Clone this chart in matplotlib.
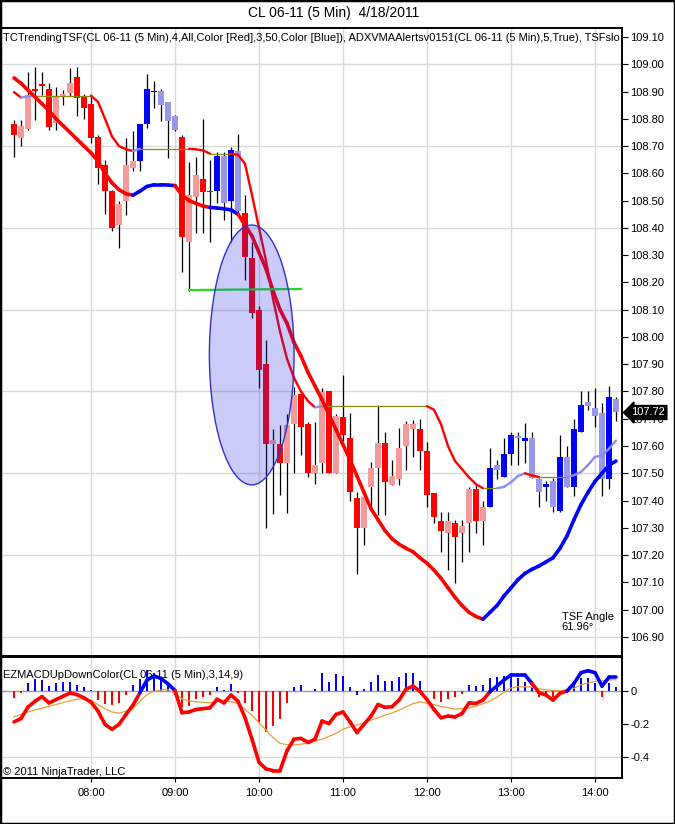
import matplotlib
matplotlib.use('Agg')
import matplotlib.pyplot as plt
import matplotlib.transforms as mtransforms
from matplotlib.patches import Ellipse, Rectangle
from matplotlib.collections import LineCollection
import numpy as np

plt.rcParams['font.family'] = ['Liberation Sans', 'DejaVu Sans']

# ---------------- data ----------------
start_minutes = 7 * 60 + 5          # first bar 07:05, 5-minute bars
tick_labels = ["08:00", "09:00", "10:00", "11:00", "12:00", "13:00", "14:00"]

candle_colors = ("RPPRRRPPPR" "RRRRRPPPBB" "BLLLRPPRRB" "LBLRRRRPRP"
                 "PRRPPRPRRR" "PPPRPPPPRR" "RRPRPPRPBL" "BBLBLLBLBL" "BBLLLBL")

opens = [108.780, 108.731, 108.762, 108.911, 108.926, 108.911, 108.783, 108.880, 108.893, 108.953,
         108.884, 108.853, 108.735, 108.630, 108.537, 108.409, 108.498, 108.620, 108.647, 108.780,
         108.898, 108.902, 108.862, 108.810, 108.734, 108.348, 108.512, 108.580, 108.535, 108.537,
         108.662, 108.500, 108.682, 108.453, 108.290, 108.100, 107.900, 107.609, 107.609, 107.539,
         107.680, 107.790, 107.680, 107.500, 107.539, 107.802, 107.500, 107.708, 107.630, 107.410,
         107.298, 107.449, 107.518, 107.610, 107.457, 107.478, 107.600, 107.662, 107.662, 107.580,
         107.429, 107.326, 107.280, 107.319, 107.280, 107.319, 107.441, 107.326, 107.378, 107.530,
         107.488, 107.570, 107.637, 107.620, 107.628, 107.478, 107.449, 107.470, 107.363, 107.559,
         107.449, 107.650, 107.760, 107.741, 107.720, 107.478, 107.772]
highs = [108.795, 108.795, 108.970, 108.990, 108.972, 108.930, 108.915, 108.905, 108.985, 108.990,
         108.890, 108.880, 108.740, 108.650, 108.540, 108.500, 108.728, 108.755, 108.780, 108.963,
         108.939, 108.910, 108.862, 108.815, 108.740, 108.640, 108.660, 108.800, 108.650, 108.680,
         108.680, 108.695, 108.744, 108.520, 108.348, 108.112, 107.990, 107.661, 107.677, 107.719,
         107.817, 107.792, 107.689, 107.689, 107.811, 107.802, 107.719, 107.860, 107.720, 107.433,
         107.440, 107.543, 107.750, 107.653, 107.550, 107.665, 107.692, 107.696, 107.700, 107.613,
         107.429, 107.359, 107.359, 107.330, 107.330, 107.450, 107.457, 107.400, 107.592, 107.550,
         107.630, 107.653, 107.653, 107.684, 107.653, 107.482, 107.470, 107.482, 107.640, 107.600,
         107.700, 107.800, 107.800, 107.812, 107.757, 107.821, 107.779]
lows = [108.660, 108.700, 108.760, 108.795, 108.887, 108.760, 108.760, 108.850, 108.885, 108.810,
        108.800, 108.710, 108.560, 108.450, 108.388, 108.327, 108.449, 108.608, 108.608, 108.767,
        108.841, 108.792, 108.657, 108.755, 108.237, 108.170, 108.380, 108.380, 108.350, 108.490,
        108.430, 108.350, 108.457, 108.210, 108.071, 107.811, 107.298, 107.351, 107.420, 107.353,
        107.500, 107.567, 107.487, 107.461, 107.500, 107.500, 107.500, 107.620, 107.400, 107.130,
        107.237, 107.378, 107.347, 107.347, 107.457, 107.457, 107.512, 107.561, 107.512, 107.378,
        107.316, 107.212, 107.145, 107.098, 107.175, 107.212, 107.280, 107.237, 107.378, 107.478,
        107.488, 107.530, 107.530, 107.537, 107.482, 107.378, 107.400, 107.359, 107.359, 107.449,
        107.417, 107.650, 107.733, 107.670, 107.417, 107.441, 107.690]
closes = [108.742, 108.773, 108.887, 108.903, 108.922, 108.770, 108.880, 108.890, 108.933, 108.875,
          108.840, 108.730, 108.620, 108.537, 108.398, 108.488, 108.630, 108.647, 108.780, 108.908,
          108.902, 108.851, 108.792, 108.758, 108.368, 108.520, 108.593, 108.530, 108.532, 108.662,
          108.490, 108.684, 108.462, 108.292, 108.088, 107.880, 107.609, 107.622, 107.539, 107.677,
          107.786, 107.668, 107.500, 107.530, 107.799, 107.500, 107.709, 107.640, 107.430, 107.298,
          107.414, 107.518, 107.610, 107.469, 107.490, 107.592, 107.680, 107.680, 107.580, 107.420,
          107.338, 107.290, 107.326, 107.267, 107.308, 107.441, 107.326, 107.378, 107.518, 107.512,
          107.570, 107.640, 107.628, 107.628, 107.482, 107.430, 107.461, 107.378, 107.559, 107.449,
          107.663, 107.751, 107.747, 107.710, 107.478, 107.779, 107.723]

# thick trending TSF line and its up/down state
tsf = [108.950, 108.930, 108.905, 108.880, 108.855, 108.830, 108.800, 108.775, 108.750, 108.725,
       108.700, 108.675, 108.645, 108.600, 108.565, 108.540, 108.525, 108.520, 108.535, 108.552,
       108.558, 108.558, 108.557, 108.555, 108.520, 108.500, 108.490, 108.480, 108.475, 108.473,
       108.470, 108.466, 108.450, 108.410, 108.370, 108.310, 108.250, 108.170, 108.100, 108.050,
       107.980, 107.930, 107.870, 107.820, 107.770, 107.715, 107.660, 107.605, 107.550, 107.490,
       107.430, 107.370, 107.330, 107.290, 107.260, 107.240, 107.225, 107.212, 107.190, 107.170,
       107.145, 107.115, 107.080, 107.045, 107.015, 106.990, 106.975, 106.965, 106.990, 107.015,
       107.050, 107.080, 107.110, 107.133, 107.148, 107.160, 107.175, 107.190, 107.225, 107.270,
       107.330, 107.385, 107.430, 107.470, 107.500, 107.530, 107.545]
tsf_state = ("dddddddddd" "dddddddduu" "uuuudddddu" "uuuddddddd" "dddddddddd"
             "dddddddddd" "dddddddduu" "uuuuuuuuuu" "uuuuuuu")

# thin ADXVMA line
vma = [108.898, 108.878, 108.882, 108.885, 108.885, 108.885, 108.885, 108.885, 108.885, 108.885,
       108.885, 108.885, 108.862, 108.800, 108.735, 108.700, 108.688, 108.682, 108.690, 108.690,
       108.690, 108.690, 108.690, 108.690, 108.690, 108.690, 108.688, 108.684, 108.672, 108.672,
       108.672, 108.672, 108.668, 108.635, 108.520, 108.400, 108.280, 108.140, 108.020, 107.920,
       107.850, 107.800, 107.765, 107.742, 107.746, 107.746, 107.746, 107.746, 107.746, 107.746,
       107.746, 107.746, 107.746, 107.746, 107.746, 107.746, 107.746, 107.746, 107.746, 107.746,
       107.733, 107.680, 107.600, 107.545, 107.515, 107.485, 107.460, 107.445, 107.445, 107.445,
       107.450, 107.467, 107.490, 107.500, 107.492, 107.486, 107.486, 107.486, 107.486, 107.486,
       107.493, 107.505, 107.530, 107.560, 107.565, 107.590, 107.620]

green_level = 108.172
green_start, green_end = "09:10", "10:30"
ellipse_center_time, ellipse_center_price = 33.96, 107.934   # bar index, price
ellipse_width_bars, ellipse_height_price = 12.1, 0.953
tsf_angle_text = "TSF Angle\n61.96\u00b0"

# MACD panel
macd = [-0.185, -0.165, -0.095, -0.060, -0.032, -0.070, -0.050, -0.030, -0.010, -0.020,
        -0.040, -0.065, -0.120, -0.200, -0.230, -0.200, -0.140, -0.083, -0.008, 0.068,
        0.093, 0.078, 0.045, 0.005, -0.130, -0.125, -0.110, -0.105, -0.100, -0.048,
        -0.070, -0.022, -0.060, -0.160, -0.290, -0.430, -0.470, -0.480, -0.480, -0.360,
        -0.290, -0.285, -0.310, -0.290, -0.180, -0.195, -0.140, -0.125, -0.185, -0.250,
        -0.200, -0.150, -0.080, -0.097, -0.093, -0.053, 0.012, 0.032, 0.000, -0.050,
        -0.110, -0.160, -0.150, -0.155, -0.135, -0.070, -0.073, -0.053, -0.002, 0.032,
        0.069, 0.099, 0.099, 0.099, 0.048, -0.008, -0.022, -0.053, -0.012, 0.002,
        0.048, 0.113, 0.125, 0.113, 0.032, 0.085, 0.085]
macd_state = ("dddddddddd" "dddddddddu" "uuuudddddd" "dddddddddd" "dddddddddd"
              "dddddddddd" "dddddddddu" "uuuuuddddd" "uuuuuuu")
signal = [-0.155, -0.140, -0.125, -0.112, -0.103, -0.090, -0.080, -0.068, -0.058, -0.048,
          -0.045, -0.055, -0.080, -0.105, -0.125, -0.133, -0.120, -0.103, -0.060, -0.020,
          0.000, 0.008, 0.010, -0.015, -0.045, -0.058, -0.063, -0.066, -0.068, -0.060,
          -0.053, -0.063, -0.073, -0.110, -0.145, -0.190, -0.235, -0.280, -0.315, -0.323,
          -0.325, -0.320, -0.315, -0.300, -0.290, -0.272, -0.255, -0.230, -0.215, -0.204,
          -0.190, -0.174, -0.160, -0.145, -0.130, -0.115, -0.093, -0.075, -0.063, -0.072,
          -0.080, -0.092, -0.100, -0.108, -0.105, -0.100, -0.090, -0.075, -0.058, -0.035,
          -0.005, 0.020, 0.028, 0.028, 0.025, 0.015, 0.010, 0.005, 0.004, 0.007,
          0.018, 0.040, 0.050, 0.060, 0.064, 0.069, 0.070]
hist = [-0.038, -0.008, 0.048, 0.073, 0.069, 0.032, 0.053, 0.057, 0.057, 0.040,
        0.024, 0.008, -0.053, -0.077, -0.083, -0.069, -0.020, 0.038, 0.073, 0.129,
        0.109, 0.073, 0.032, -0.020, -0.097, -0.089, -0.048, -0.032, -0.022, 0.028,
        0.008, 0.044, -0.012, -0.069, -0.117, -0.184, -0.244, -0.210, -0.170, -0.069,
        0.028, 0.038, 0.000, 0.012, 0.109, 0.057, 0.105, 0.093, 0.024, -0.022,
        0.012, 0.059, 0.099, 0.065, 0.065, 0.085, 0.113, 0.109, 0.063, 0.004,
        -0.048, -0.063, -0.048, -0.032, -0.016, 0.040, 0.032, 0.040, 0.079, 0.085,
        0.093, 0.089, 0.079, 0.059, 0.028, -0.032, -0.028, -0.032, -0.008, -0.012,
        0.038, 0.079, 0.079, 0.048, -0.032, 0.048, 0.024]
hist_colors = ("rrbbbbbbbb" "bbrrrrrbbb" "bbbrrrrrrb" "bbrrrrrrrr" "bbbbbbbbbb"
               "bbbbbbbbbb" "rrrrrbbbbb" "bbbbbrrrrr" "bbbbrbb")

title = "CL 06-11 (5 Min)  4/18/2011"
price_label = ("TCTrendingTSF(CL 06-11 (5 Min),4,All,Color [Red],3,50,Color [Blue]), "
               "ADXVMAAlertsv0151(CL 06-11 (5 Min),5,True), TSFslo")
macd_label = "EZMACDUpDownColor(CL 06-11 (5 Min),3,14,9)"
copyright_label = "\u00a9 2011 NinjaTrader, LLC"

# ---------------- drawing ----------------
n = len(closes)
x = np.arange(n)
times = ["%02d:%02d" % ((start_minutes + 5 * i) // 60, (start_minutes + 5 * i) % 60) for i in range(n)]
tick_pos = [times.index(t) for t in tick_labels]

W, H = 675, 824
fig = plt.figure(figsize=(W / 100, H / 100), dpi=100)
fig.patch.set_facecolor('white')

def fx(px):
    return px / W

def fy(py):
    return 1 - py / H

ax1 = fig.add_axes([fx(1), fy(656), fx(622) - fx(1), fy(28) - fy(656)])
ax2 = fig.add_axes([fx(1), fy(778), fx(622) - fx(1), fy(657) - fy(778)], sharex=ax1)

grid_c = '#DADADA'
cmap = {'R': '#FF0000', 'P': '#F49A9A', 'B': '#0000FF', 'L': '#9797EE'}

# price grid
for lev in np.arange(106.90, 109.05, 0.30):
    ax1.axhline(lev, color=grid_c, lw=1, zorder=0)
for tp in tick_pos:
    ax1.axvline(tp, color=grid_c, lw=1, zorder=0)
    ax2.axvline(tp, color=grid_c, lw=1, zorder=0)

# candles
ax1.vlines(x, lows, highs, color='black', lw=0.9, zorder=2)
bot = np.minimum(opens, closes)
hgt = np.maximum(np.abs(np.array(closes) - np.array(opens)), 0.005)
ax1.bar(x, hgt, bottom=bot, width=0.72, color=[cmap[c] for c in candle_colors],
        linewidth=0, zorder=3)

# thin VMA line coloured by slope
vma_a = np.array(vma)
segs, cols, lws = [], [], []
for i in range(1, n):
    d = vma_a[i] - vma_a[i - 1]
    segs.append([(x[i - 1], vma_a[i - 1]), (x[i], vma_a[i])])
    if d > 0.0005:
        cols.append('#8C8CF0'); lws.append(1.7)
    elif d < -0.0005:
        cols.append('#FF0000'); lws.append(1.7)
    else:
        cols.append('#8A8A10'); lws.append(0.9)
ax1.add_collection(LineCollection(segs, colors=cols, linewidths=lws, zorder=4, capstyle='round'))

# thick TSF line
tsf_a = np.array(tsf)
segs = [[(x[i - 1], tsf_a[i - 1]), (x[i], tsf_a[i])] for i in range(1, n)]
cols = ['#0000FF' if tsf_state[i] == 'u' else '#FF0000' for i in range(1, n)]
ax1.add_collection(LineCollection(segs, colors=cols, linewidths=2.6, zorder=5, capstyle='round'))

# green support line
gs, ge = times.index(green_start), times.index(green_end)
ax1.plot([gs, ge], [green_level, green_level + 0.004], color='#22DD22', lw=1.6, zorder=5)

# ellipse highlight
ell = Ellipse((ellipse_center_time, ellipse_center_price), ellipse_width_bars, ellipse_height_price,
              facecolor=(0.15, 0.15, 0.9, 0.24), edgecolor='#3030C8', lw=1.0, zorder=6)
ax1.add_patch(ell)

ax1.set_xlim(-1.86, 86.86)
ax1.set_ylim(106.830, 109.133)
ax1.yaxis.tick_right()
ax1.set_yticks(np.round(np.arange(106.90, 109.101, 0.10), 2))
ax1.yaxis.set_major_formatter(matplotlib.ticker.FormatStrFormatter('%.2f'))
ax1.tick_params(axis='y', which='both', right=True, left=False, labelsize=8, length=4,
                width=0.8, pad=2, direction='out', colors='black')
ax1.tick_params(axis='x', bottom=False, labelbottom=False)
ax1.set_xticks(tick_pos)
for sp in ax1.spines.values():
    sp.set_linewidth(1.4)

ax1.text(0.003, 1 - 10 / 628, price_label, transform=ax1.transAxes, fontsize=8,
         va='center', ha='left', clip_on=True, zorder=8)
ax1.text(0.903, 1 - 594 / 628, tsf_angle_text, transform=ax1.transAxes, fontsize=8,
         va='center', ha='left', linespacing=1.05, zorder=8)

# last price tag
btr = mtransforms.blended_transform_factory(ax1.transAxes, ax1.transData)
ax1.text(1.0145, closes[-1], "%.2f" % closes[-1], transform=btr, color='white', fontsize=8,
         va='center', ha='left', clip_on=False, zorder=9,
         bbox=dict(boxstyle='larrow,pad=0.18', fc='black', ec='black'))

# MACD panel
ax2.axhline(-0.4, color=grid_c, lw=1, zorder=0)
ax2.axhline(0, color='#9A9AB4', lw=1, zorder=1)
ax2.bar(x, hist, width=0.38, color=['#0000FF' if c == 'b' else '#FF0000' for c in hist_colors],
        linewidth=0, zorder=2)
ax2.plot(x, signal, color='#E8A03C', lw=0.9, zorder=3)
macd_a = np.array(macd)
segs = [[(x[i - 1], macd_a[i - 1]), (x[i], macd_a[i])] for i in range(1, n)]
cols = ['#0000FF' if macd_state[i] == 'u' else '#FF0000' for i in range(1, n)]
ax2.add_collection(LineCollection(segs, colors=cols, linewidths=2.6, zorder=4, capstyle='round'))

ax2.set_ylim(-0.525, 0.208)
ax2.yaxis.tick_right()
ax2.set_yticks([0, -0.2, -0.4])
ax2.set_yticklabels(["0", "-0.2", "-0.4"])
ax2.tick_params(axis='y', right=True, left=False, labelsize=8, length=4, width=0.8, pad=2)
ax2.set_xticks(tick_pos)
ax2.set_xticklabels(tick_labels)
ax2.tick_params(axis='x', labelsize=8, length=3, width=0.8, pad=4)
for sp in ax2.spines.values():
    sp.set_linewidth(1.4)
ax2.text(0.003, 1 - 18 / 121, macd_label, transform=ax2.transAxes, fontsize=8,
         va='center', ha='left', zorder=8)
ax2.text(0.003, 1 - 115 / 121, copyright_label, transform=ax2.transAxes, fontsize=8,
         va='center', ha='left', zorder=8)

fig.text(0.494, fy(13.5), title, ha='center', va='center', fontsize=10)
fig.patches.append(Rectangle((0, 0), 1, 1, transform=fig.transFigure, fill=False,
                             ec='black', lw=2.5, zorder=10))

fig.savefig('out.png', dpi=100, facecolor='white')
